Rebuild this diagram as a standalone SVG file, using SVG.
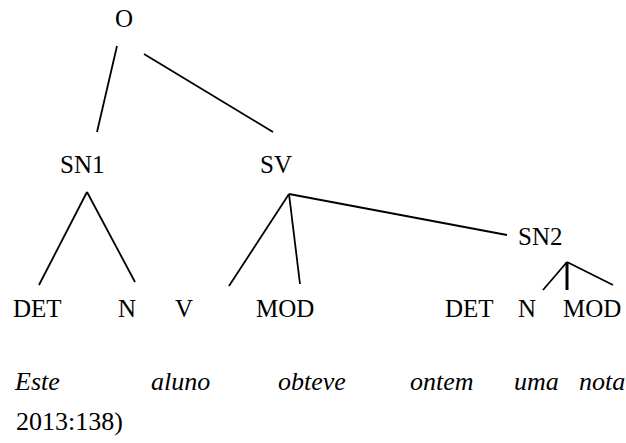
<svg xmlns="http://www.w3.org/2000/svg" width="626" height="443" viewBox="0 0 626 443" font-family="Liberation Serif, serif">
<style>
text{font-size:25px;fill:#000}
.it{font-style:italic;font-size:26px}
.b{font-size:26px}
line{stroke:#000;stroke-width:1.8;stroke-linecap:butt}
</style>
<rect width="626" height="443" fill="#fff"/>
<g id="connectors">
<line x1="117" y1="46" x2="97" y2="132"/>
<line x1="144" y1="54" x2="273" y2="132"/>
<line x1="87" y1="192" x2="39" y2="285"/>
<line x1="87" y1="192" x2="135" y2="282"/>
<line x1="289" y1="194" x2="229" y2="286"/>
<line x1="289" y1="194" x2="300" y2="284"/>
<line x1="289" y1="194" x2="507" y2="235"/>
<line x1="567" y1="262" x2="543" y2="290"/>
<line x1="567" y1="262" x2="567" y2="290" style="stroke-width:3"/>
<line x1="567" y1="262" x2="613" y2="285"/>
</g>
<g id="O"><text x="115" y="27">O</text></g>
<g id="SN1"><text x="60" y="173">SN1</text></g>
<g id="SV"><text x="260" y="173">SV</text></g>
<g id="SN2"><text x="518" y="245">SN2</text></g>
<g id="DET1"><text x="13" y="317">DET</text></g>
<g id="N1"><text x="118" y="317">N</text></g>
<g id="V"><text x="175" y="317">V</text></g>
<g id="MOD1"><text x="256" y="317">MOD</text></g>
<g id="DET2"><text x="445" y="317">DET</text></g>
<g id="N2"><text x="518" y="317">N</text></g>
<g id="MOD2"><text x="563" y="317">MOD</text></g>
<g id="sentence">
<text class="it" x="15" y="390">Este</text>
<text class="it" x="151" y="390">aluno</text>
<text class="it" x="278" y="390">obteve</text>
<text class="it" x="410" y="390">ontem</text>
<text class="it" x="514" y="390">uma</text>
<text class="it" x="579" y="390">nota</text>
<text class="b" x="16" y="430">2013:138)</text>
</g>
</svg>
